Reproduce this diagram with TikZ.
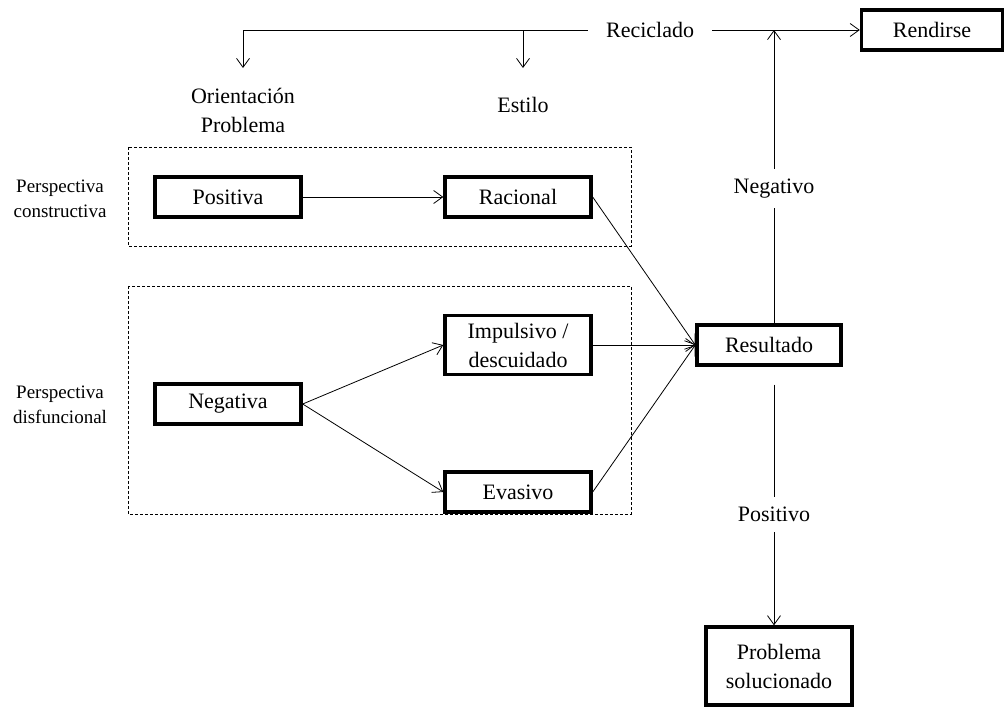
\documentclass[tikz,border=0pt]{standalone}
\usepackage{fontspec}
\setmainfont{Liberation Serif}
\usetikzlibrary{arrows.meta}

\begin{document}
\begin{tikzpicture}[x=1pt,y=-1pt]
            \tikzstyle{every node}=[font=\fontsize{22}{29}\selectfont,align=center]
            \tikzstyle{caja}=[draw,line width=3.4pt,minimum width=146pt,minimum height=40pt,inner sep=2pt]
            \tikzstyle{grupo}=[draw,line width=0.7pt,dash pattern=on 3pt off 2pt]
            \tikzstyle{flecha}=[line width=0.8pt,-{Straight Barb[length=9pt,width=13pt]}]
            \tikzstyle{etiqueta}=[fill=white,inner xsep=4pt,inner ysep=10pt]
            \useasboundingbox (0,0) rectangle (1006,707);
            % grupos
            \draw[grupo] (128,147) rectangle (631,246);
            \draw[grupo] (128,286) rectangle (631,514);
            \node[font=\fontsize{19}{25}\selectfont] (pc) at (60,199) {Perspectiva\\constructiva};
            \node[font=\fontsize{19}{25}\selectfont] (pd) at (60,405) {Perspectiva\\disfuncional};
            % cajas
            \node[caja] (pos) at (228,197) {Positiva};
            \node[caja] (rac) at (518,197) {Racional};
            \node[caja,minimum height=59pt] (imp) at (518,345) {Impulsivo /\\descuidado};
            \node[caja] (neg) at (228,404) {Negativa};
            \node[caja] (eva) at (518,492) {Evasivo};
            \node[caja,minimum width=144pt] (res) at (769,345) {Resultado};
            \node[caja,minimum width=141pt] (ren) at (932,30) {Rendirse};
            \node[caja,minimum height=78pt] (sol) at (779,666) {Problema\\solucionado};
            \node[anchor=north] (ori) at (243,85) {Orientación\\Problema};
            \node[anchor=north] (est) at (523,94) {Estilo};
            \coordinate (esq) at (243,30);
            \coordinate (eje) at (774,30);
            % flechas
            \draw[flecha] (pos) -- (rac);
            \draw[flecha] (neg.east) -- (imp.west);
            \draw[flecha] (neg.east) -- (eva.west);
            \draw[flecha] (rac.east) -- (res.west);
            \draw[flecha] (imp.east) -- (res.west);
            \draw[flecha] (eva.east) -- (res.west);
            \draw[flecha] (res.north -| eje) -- node[etiqueta,pos=0.46]{Negativo} (eje);
            \draw[flecha,shorten <=18pt] (res.south -| eje) -- node[etiqueta,pos=0.57]{Positivo} (sol.north -| eje);
            \draw[flecha] (esq) -- node[etiqueta,inner xsep=18pt,pos=0.66]{Reciclado} (ren.west);
            \draw[flecha,shorten >=17pt] (esq) -- (ori);
            \draw[flecha,shorten >=26pt] (esq -| est) -- (est);
          \end{tikzpicture}
\end{document}
